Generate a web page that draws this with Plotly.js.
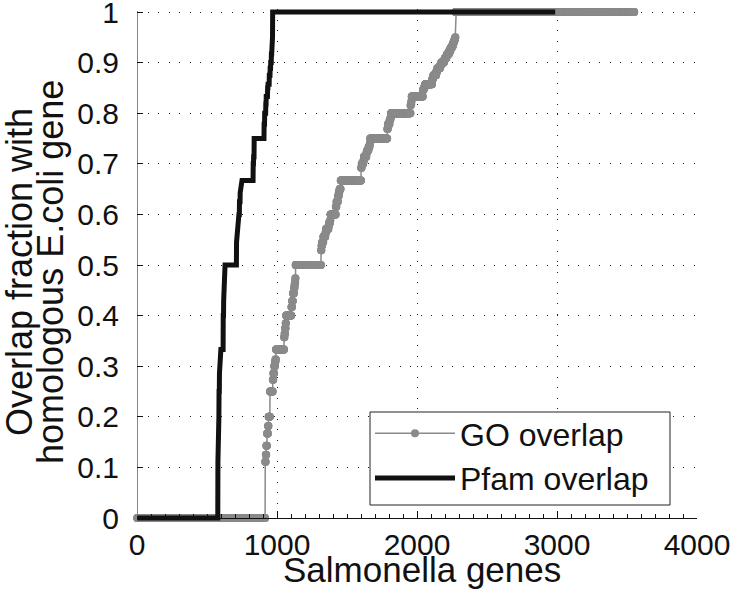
<!DOCTYPE html>
<html><head><meta charset="utf-8">
<script src="https://cdn.plot.ly/plotly-3.0.1.min.js"></script>
<style>html,body{margin:0;padding:0;background:#fff}</style>
</head><body>
<div id="chart" style="width:732px;height:590px"></div>
<script>
// GO overlap: overlap fraction levels (sorted) and number of Salmonella genes at each level
const goLevels = [0, 0.111, 0.125, 0.143, 0.167, 0.182, 0.2, 0.25, 0.273, 0.286, 0.3, 0.308, 0.313, 0.333,
  0.357, 0.364, 0.375, 0.385, 0.4, 0.417, 0.429, 0.444, 0.455, 0.462, 0.467, 0.474, 0.5,
  0.529, 0.538, 0.545, 0.556, 0.563, 0.571, 0.577, 0.583, 0.588, 0.6, 0.615, 0.625, 0.636, 0.643, 0.647, 0.65,
  0.667, 0.692, 0.7, 0.706, 0.714, 0.722, 0.727, 0.733, 0.737, 0.741, 0.75, 0.769, 0.778, 0.786, 0.789, 0.792,
  0.8, 0.815, 0.818, 0.824, 0.833, 0.846, 0.85, 0.853, 0.857, 0.867, 0.871, 0.875, 0.882, 0.889, 0.895, 0.9,
  0.905, 0.909, 0.913, 0.917, 0.923, 0.929, 0.933, 0.938, 0.941, 0.944, 0.947, 0.95, 1];
const goCounts = [915, 4, 4, 5, 7, 4, 10, 20, 4, 6, 6, 3, 4, 58,
  3, 4, 4, 3, 38, 5, 6, 8, 4, 3, 2, 2, 182,
  3, 4, 9, 15, 4, 18, 3, 8, 3, 38, 5, 10, 6, 4, 3, 7,
  146, 4, 12, 4, 18, 5, 10, 7, 3, 2, 122, 4, 12, 5, 3, 2,
  140, 2, 4, 2, 80, 6, 6, 4, 50, 6, 3, 20, 8, 20, 8, 20,
  6, 12, 4, 14, 10, 10, 8, 5, 4, 4, 3, 2, 1278];

// Pfam overlap
const pfamLevels = [0, 0.111, 0.125, 0.143, 0.167, 0.2, 0.25, 0.286, 0.3, 0.333, 0.4, 0.429, 0.444, 0.5,
  0.545, 0.556, 0.571, 0.6, 0.625, 0.643, 0.65, 0.667, 0.7, 0.714, 0.75, 0.778, 0.8, 0.818, 0.833, 0.85,
  0.857, 0.875, 0.889, 0.9, 0.917, 0.923, 0.933, 0.95, 1];
const pfamCounts = [577, 2, 1, 1, 2, 2, 3, 1, 1, 25, 3, 1, 1, 90,
  2, 3, 4, 12, 5, 2, 3, 88, 3, 4, 71, 4, 8, 3, 10, 3,
  9, 6, 4, 5, 3, 2, 2, 2, 2019];

const xTicks = [0, 1000, 2000, 3000, 4000];
const yTicks = [0, 0.1, 0.2, 0.3, 0.4, 0.5, 0.6, 0.7, 0.8, 0.9, 1];
const seriesNames = ['GO overlap', 'Pfam overlap'];
const xLabel = 'Salmonella genes';
const yLabelLines = ['Overlap fraction with', 'homologous E.coli gene'];

function expand(levels, counts) {
  const x = [], y = [];
  let idx = 1;
  for (let k = 0; k < levels.length; k++) {
    for (let c = 0; c < counts[k]; c++) { x.push(idx++); y.push(levels[k]); }
  }
  return {x, y};
}
const go = expand(goLevels, goCounts);
const pf = expand(pfamLevels, pfamCounts);

// pixel geometry
const W = 732, H = 590;
const mL = 137, mR = 35, mT = 9, mB = 68;
const plotW = W - mL - mR, plotH = H - mT - mB;
const y0px = 518, y1px = 12;
const pxPerUnit = y0px - y1px;
const yRange = [-((H - mB) - y0px) / pxPerUnit, 1 + (y1px - mT) / pxPerUnit];
const xAxisPos = ((H - mB) - y0px) / plotH;
const px2x = px => (px - mL) / plotW;
const py2y = py => ((H - mB) - py) / plotH;

const FONT = 'Liberation Sans, Arial, Helvetica, sans-serif';
const GRAY = '#8a8a8a';

const traces = [
  {x: go.x, y: go.y, type: 'scatter', mode: 'lines+markers', name: seriesNames[0],
   line: {color: GRAY, width: 1.5}, marker: {color: GRAY, size: 8}, cliponaxis: false},
  {x: pf.x, y: pf.y, type: 'scatter', mode: 'lines', name: seriesNames[1],
   line: {color: '#111111', width: 5}, cliponaxis: false}
];

const gridStyle = {showgrid: true, gridcolor: '#222', gridwidth: 1, griddash: '1px,9.5px'};

const layout = {
  width: W, height: H,
  margin: {l: mL, r: mR, t: mT, b: mB, pad: 0},
  paper_bgcolor: '#fff', plot_bgcolor: '#fff',
  font: {family: FONT, color: '#111', size: 30},
  showlegend: true,
  legend: {x: px2x(370), y: py2y(406), xanchor: 'left', yanchor: 'top',
           bgcolor: 'rgba(0,0,0,0)', borderwidth: 0, font: {size: 32, family: FONT, color: '#111'},
           itemwidth: 80, tracegroupgap: 0},
  xaxis: Object.assign({
    range: [0, 4000], tickmode: 'array', tickvals: xTicks, ticktext: xTicks.map(String),
    ticks: 'inside', ticklen: 7, tickcolor: '#111', tickwidth: 1,
    showline: true, linecolor: '#111', linewidth: 1, zeroline: false,
    anchor: 'free', position: xAxisPos, ticklabeloverflow: 'allow',
    minor: {tick0: 0, dtick: 100, ticks: 'inside', ticklen: 4, tickcolor: '#111', showgrid: false},
    tickfont: {size: 30, family: FONT, color: '#111'}
  }, gridStyle),
  yaxis: Object.assign({
    range: yRange, tickmode: 'array', tickvals: yTicks, ticktext: yTicks.map(String),
    ticks: 'inside', ticklen: 6, tickcolor: '#111', tickwidth: 1,
    showline: false, zeroline: false, ticklabelstandoff: 17, ticklabeloverflow: 'allow',
    tickfont: {size: 30, family: FONT, color: '#111'}
  }, gridStyle),
  shapes: [
    {type: 'line', xref: 'x', yref: 'y', x0: 0, x1: 0, y0: 0, y1: 1.002, layer: 'between',
     line: {color: '#111', width: 1}},
    // legend frame
    {type: 'rect', xref: 'paper', yref: 'paper', x0: px2x(370), x1: px2x(670), y0: py2y(505), y1: py2y(412),
     layer: 'above', fillcolor: '#fff', line: {color: '#222', width: 1}}
  ],
  annotations: [
    {text: xLabel, xref: 'paper', yref: 'paper', x: px2x(422), y: py2y(591),
     xanchor: 'center', yanchor: 'bottom', showarrow: false, font: {size: 35, family: FONT, color: '#111'}},
    {text: yLabelLines[0], xref: 'paper', yref: 'paper', x: px2x(19), y: py2y(272),
     xanchor: 'center', yanchor: 'middle', showarrow: false, textangle: -90, font: {size: 36, family: FONT, color: '#111'}},
    {text: yLabelLines[1], xref: 'paper', yref: 'paper', x: px2x(50), y: py2y(272),
     xanchor: 'center', yanchor: 'middle', showarrow: false, textangle: -90, font: {size: 36, family: FONT, color: '#111'}}
  ]
};

Plotly.newPlot('chart', traces, layout, {displayModeBar: false, staticPlot: true});
</script>
</body></html>
